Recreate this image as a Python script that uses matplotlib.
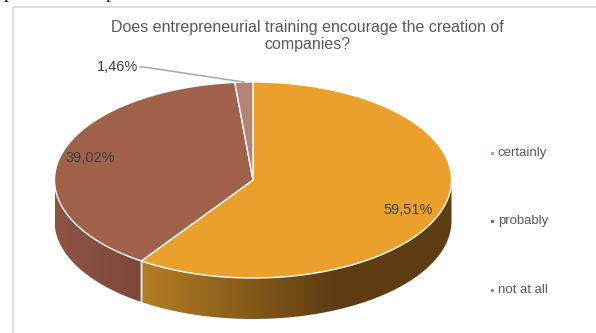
import numpy as np
import matplotlib.pyplot as plt
from matplotlib.patches import Polygon, Rectangle
from matplotlib.colors import LinearSegmentedColormap

plt.rcParams['font.family'] = ['Liberation Sans', 'DejaVu Sans']

# ----------------------------------------------------------
# Data
# ----------------------------------------------------------

title = "Does entrepreneurial training encourage the creation of\ncompanies?"
categories = ["certainly", "probably", "not at all"]
shares = [59.51, 39.02, 1.46]
value_labels = ["59,51%", "39,02%", "1,46%"]

top_colors = ["#EBA02D", "#A0614B", "#B38378"]
side_colors = [("#B57E24", "#5E3D13"), ("#8D5443", "#7C483A"), ("#8E6A60", "#8E6A60")]

# ----------------------------------------------------------
# Pie geometry (pixel space)
# ----------------------------------------------------------

CX, CY = 253, 180
RX, RY = 198.5, 98
DEPTH = 41


def ell(theta, drop=0.0):
    # theta: degrees clockwise from 12 o'clock
    t = np.radians(theta)
    return CX + RX * np.sin(t), CY - RY * np.cos(t) + drop


fig = plt.figure(figsize=(5.96, 3.33), dpi=100)
ax = fig.add_axes([0, 0, 1, 1])
ax.set_xlim(0, 596)
ax.set_ylim(333, 0)
ax.axis("off")

# chart frame
ax.add_patch(Rectangle((13, 7), 600, 340, fill=False, edgecolor="#D9D9D9", lw=1.2))

# document text above the chart, mostly cut off
ax.text(4, -2, "p", family="Liberation Serif", fontsize=14, color="black", va="baseline")
ax.text(106, -2, "p", family="Liberation Serif", fontsize=14, color="black", va="baseline")

total = sum(shares)
bounds = np.concatenate([[0], np.cumsum(shares) / total * 360])

# ----------------------------------------------------------
# Side walls (front half only: 90..270 degrees)
# ----------------------------------------------------------

for i in range(len(shares)):
    a0, a1 = max(bounds[i], 90), min(bounds[i + 1], 270)
    if a1 <= a0:
        continue
    th = np.linspace(a0, a1, 120)
    xt, yt = ell(th)
    xb, yb = ell(th[::-1], DEPTH)
    poly = Polygon(np.column_stack([np.r_[xt, xb], np.r_[yt, yb]]), closed=True,
                   facecolor="none", edgecolor="none")
    ax.add_patch(poly)
    xmin, xmax = min(xt.min(), xb.min()), max(xt.max(), xb.max())
    ymin, ymax = min(yt.min(), yb.min()), max(yt.max(), yb.max())
    cmap = LinearSegmentedColormap.from_list("side%d" % i, side_colors[i])
    # light at the left end of the wall, darkening towards the right
    grad = np.clip(np.linspace(0, 1.6, 256), 0, 1)[None, :]
    if i == 1:
        grad = np.linspace(0, 1, 256)[None, :]
    im = ax.imshow(grad, cmap=cmap, extent=(xmin, xmax, ymax, ymin),
                   aspect="auto", interpolation="bilinear", zorder=1)
    im.set_clip_path(poly)
    # white seam at the slice edges
    for a in (a0, a1):
        if 90 < a < 270:
            x0, y0 = ell(a)
            ax.plot([x0, x0], [y0, y0 + DEPTH], color="white", lw=1, zorder=2)

# ----------------------------------------------------------
# Top face
# ----------------------------------------------------------

for i in range(len(shares)):
    th = np.linspace(bounds[i], bounds[i + 1], 200)
    xs, ys = ell(th)
    pts = np.column_stack([np.r_[CX, xs], np.r_[CY, ys]])
    ax.add_patch(Polygon(pts, closed=True, facecolor=top_colors[i],
                         edgecolor="white", lw=1.0, zorder=3))

# ----------------------------------------------------------
# Labels
# ----------------------------------------------------------

label_color = "#404040"
ax.text(408, 210, value_labels[0], fontsize=10.5, color=label_color, ha="center", va="center", zorder=5)
ax.text(90, 158, value_labels[1], fontsize=10.5, color=label_color, ha="center", va="center", zorder=5)
ax.text(138, 67, value_labels[2], fontsize=10.5, color=label_color, ha="right", va="center", zorder=5)

# leader line to the thin slice
mid = (bounds[2] + bounds[3]) / 2
lx, ly = ell(mid)
ax.plot([140, 144, lx], [67, 67, ly], color="#A6A6A6", lw=1.1, zorder=4)

ax.text(307, 36, title, fontsize=11.5, color="#595959", ha="center", va="center",
        linespacing=1.1)

# ----------------------------------------------------------
# Legend
# ----------------------------------------------------------

leg_y = [153, 221, 290]
for name, col, y in zip(categories, top_colors, leg_y):
    ax.add_patch(Rectangle((490.5, y - 1.5), 3, 3, facecolor=col, edgecolor="none"))
    ax.text(498, y, name, fontsize=9.5, color="#595959", ha="left", va="center")

fig.savefig("out.png", dpi=100)
